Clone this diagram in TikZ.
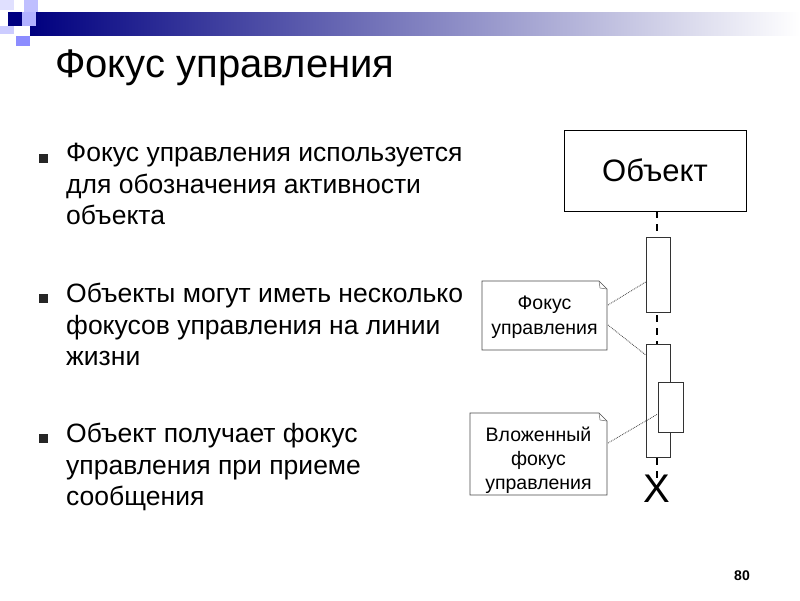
\documentclass[tikz,border=0pt]{standalone}
\usepackage{fontspec}
\setmainfont{Liberation Sans}
\begin{document}
\begin{tikzpicture}[x=1pt,y=-1pt,
 note/.style={draw=black!70,line width=0.6pt,fill=white},
 act/.style={draw=black!80,line width=0.6pt,fill=white},
 dotl/.style={densely dotted,black!75,line width=0.8pt},
 bul/.style={fill=black!85,minimum size=9pt,inner sep=0pt},
 btxt/.style={anchor=north west,align=left,font=\fontsize{26.5}{31.5}\selectfont,inner sep=0pt}]
\useasboundingbox (0,0) rectangle (800,600);
\fill[white] (0,0) rectangle (800,600);
% decoration
\shade[left color=blue!50!black,right color=white] (30,12) rectangle (800,35);
\fill[blue!12!white] (0,0) rectangle (14,10);
\fill[blue!25!white] (24,0) rectangle (38,12);
\fill[blue!50!black] (8,12) rectangle (22,26);
\fill[blue!30!white] (22,12) rectangle (36,26);
\fill[blue!20!white] (0,26) rectangle (14,34);
\fill[blue!45!white] (16,36) rectangle (30,46);
\node[anchor=west,font=\fontsize{40}{44}\selectfont,inner sep=0pt] (title) at (55,68) {Фокус управления};
% bullets
\node[bul] (b1) at (43,158) {};
\node[bul] (b2) at (43,298) {};
\node[bul] (b3) at (43,438) {};
\node[btxt] (t1) at (66,143) {Фокус управления используется\\для обозначения активности\\объекта};
\node[btxt] (t2) at (66,283) {Объекты могут иметь несколько\\фокусов управления на линии\\жизни};
\node[btxt] (t3) at (66,423) {Объект получает фокус\\управления при приеме\\сообщения};
% diagram
\node[draw,line width=0.8pt,minimum width=182pt,minimum height=81pt,font=\fontsize{31}{34}\selectfont] (obj) at (655,170.5) {Объект};
\coordinate (lend) at (657,478);
\draw[dashed,line width=1.2pt,dash pattern=on 7pt off 6pt] (obj.south -| lend) -- (lend);
\node[act,minimum width=24pt,minimum height=75pt,inner sep=0pt] (a1) at (658,274.5) {};
\node[act,minimum width=24pt,minimum height=113pt,inner sep=0pt] (a2) at (658,400.5) {};
\node[act,minimum width=25pt,minimum height=50pt,inner sep=0pt] (a3) at (670.5,407) {};
\node[font=\fontsize{40}{40}\selectfont,inner sep=0pt] (x) at (657,489) {X};
% notes
\draw[note] (482,281) -- (599,281) -- (607,289) -- (607,350) -- (482,350) -- cycle;
\draw[black!60,line width=0.5pt] (599,281) -- (600,288) -- (607,289);
\node[align=center,font=\fontsize{19.5}{25}\selectfont] (n1) at (544.5,317) {Фокус\\управления};
\draw[note] (470,413) -- (599,413) -- (607,421) -- (607,495) -- (470,495) -- cycle;
\draw[black!60,line width=0.5pt] (599,413) -- (600,420) -- (607,421);
\node[align=center,font=\fontsize{19.5}{24}\selectfont] (n2) at (538.5,460) {Вложенный\\фокус\\управления};
\coordinate (n1a) at (608,305); \coordinate (n1b) at (608,325); \coordinate (n2a) at (608,443);
\draw[dotl] (n1a) -- (a1.west |- 0,282);
\draw[dotl] (n1b) -- (a2.west |- 0,355);
\draw[dotl] (n2a) -- (a3.west |- 0,414);
\node[font=\bfseries\fontsize{14}{14}\selectfont] (pg) at (742,576) {80};
\end{tikzpicture}
\end{document}
